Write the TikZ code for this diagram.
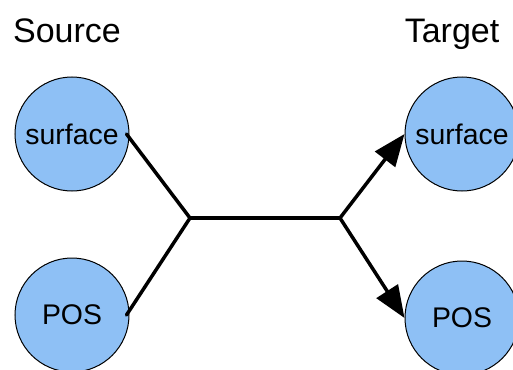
\documentclass[tikz,border=0pt]{standalone}
\usepackage{fontspec}
\setmainfont{Liberation Sans}
\usetikzlibrary{arrows.meta}

\definecolor{nodeblue}{RGB}{142,192,245}

\tikzset{every picture/.style={line width=1pt}}
\tikzset{
	wordnode/.style={circle, draw=black, fill=nodeblue, line width=1pt, minimum size=114pt, inner sep=0pt, font=\fontsize{28.4}{30}\selectfont},
	headtext/.style={anchor=base, font=\fontsize{34}{36}\selectfont},
	flowline/.style={line width=3.5pt, line cap=round, line join=round},
	flowarrow/.style={flowline, -{Triangle[length=32pt,width=25pt]}}
}

\begin{document}
\begin{tikzpicture}[x=1pt,y=1pt,yscale=-1,xscale=1]
	\useasboundingbox (0,0) rectangle (513,369);

	%Shape: Circle [source surface]
	\node [wordnode] (srcsurf) at (72,134) {surface};
	%Shape: Circle [source POS]
	\node [wordnode] (srcpos) at (72,315) {POS};
	%Shape: Circle [target surface]
	\node [wordnode] (tgtsurf) at (462,134) {surface};
	%Shape: Circle [target POS]
	\node [wordnode] (tgtpos) at (462,318) {POS};

	%Junctions
	\coordinate (joinL) at (190,218);
	\coordinate (joinR) at (340,218);

	%Straight Lines
	\draw [flowline] ([xshift=-3pt]srcsurf.east) -- (joinL) -- ([xshift=-3pt]srcpos.east);
	%Straight Lines
	\draw [flowline] (joinL) -- (joinR);
	%Straight Lines
	\draw [flowarrow] (joinR) -- (tgtsurf.west);
	%Straight Lines
	\draw [flowarrow] (joinR) -- (tgtpos.west);

	% Text Node
	\node [headtext] (srchead) at (67,42) {Source};
	% Text Node
	\node [headtext] (tgthead) at (452,42) {Target};

\end{tikzpicture}
\end{document}
